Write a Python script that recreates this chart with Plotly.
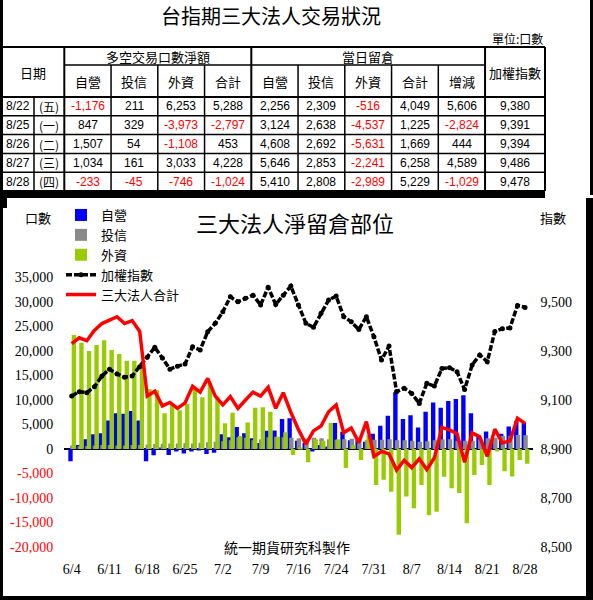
import plotly.graph_objects as go

W, H = 593, 600

# ---------------- chart data ----------------
dates = ["6/4", "6/5", "6/6", "6/9", "6/10", "6/11", "6/12", "6/13", "6/16", "6/17",
         "6/18", "6/19", "6/20", "6/23", "6/24", "6/25", "6/26", "6/27", "6/30", "7/1",
         "7/2", "7/3", "7/4", "7/7", "7/8", "7/9", "7/10", "7/11", "7/14", "7/15",
         "7/16", "7/17", "7/18", "7/21", "7/22", "7/24", "7/25", "7/28", "7/29", "7/30",
         "7/31", "8/1", "8/4", "8/5", "8/6", "8/7", "8/8", "8/11", "8/12", "8/13",
         "8/14", "8/15", "8/18", "8/19", "8/20", "8/21", "8/22", "8/25", "8/26", "8/27",
         "8/28"]

prop = [-2500, 800, 2000, 3000, 3200, 5800, 7300, 7200, 7750, 5800,
        -2500, -1300, 200, -1200, -500, -900, -500, -300, -1000, -750,
        3000, 2400, 4500, 3200, 2200, 1200, 3700, 3800, 6100, 6300,
        1700, 1200, -500, 800, 500, 5300, 3500, 1800, 1800, 1500,
        3100, 4750, 6800, 11600, 6100, 6900, 4400, 7600, 9500, 8400,
        9800, 10200, 10950, 7300, 2500, 3550, 2256, 3124, 4608, 5646,
        5410]

trust = [700, 600, 600, 700, 800, 800, 700, 700, 800, 800,
         900, 1000, 1000, 1100, 1100, 1200, 1100, 1300, 1400, 1500,
         1600, 1800, 2400, 2300, 1800, 2000, 2400, 2500, 2400, 2300,
         2200, 2100, 2300, 2200, 2000, 1900, 2000, 2100, 1900, 1800,
         1900, 1900, 2000, 1800, 1800, 1700, 1500, 1600, 1800, 2000,
         2000, 1700, 1700, 1700, 2000, 2200, 2309, 2638, 2692, 2853,
         2808]

foreign = [23250, 21700, 20000, 21200, 22200, 20200, 19400, 18000, 18000, 17500,
           12200, 12000, 7300, 9100, 7900, 9200, 12300, 10550, 13500, 10700,
           5250, 7400, 2650, 5400, 8400, 8500, 7600, 2500, 3400, -1200,
           200, -2700, 2000, 1700, 5300, 2000, -3900, 800, -2250, 2800,
           -7350, -6300, -8700, -17500, -9700, -12100, -7350, -13500, -12800, -5650,
           -8000, -9000, -15150, -5300, -3250, -7350, -516, -4537, -5631, -2241,
           -2989]

total = [21500, 22700, 22100, 24200, 25600, 26400, 27000, 25600, 26200, 24000,
         10800, 11800, 8800, 9500, 8300, 9400, 12800, 11600, 14400, 10800,
         9000, 10700, 8300, 10000, 11600, 10800, 12600, 8300, 11500, 7500,
         4000, 1000, 3700, 4700, 7600, 9000, 3300, 4300, 1300, 5600,
         -1500, -500, -1000, -4300, -2300, -3800, -2000, -4200, -1800, 4400,
         3900, 3100, -2700, 3300, 2500, -1500, 4049, 1225, 1669, 6258,
         5229]

taiex = [9116, 9134, 9130, 9154, 9198, 9226, 9206, 9193, 9198, 9236,
         9275, 9315, 9271, 9226, 9238, 9247, 9317, 9304, 9379, 9413,
         9460, 9521, 9501, 9515, 9528, 9488, 9560, 9490, 9528, 9565,
         9488, 9413, 9397, 9454, 9508, 9524, 9440, 9419, 9388, 9440,
         9358, 9263, 9320, 9134, 9148, 9127, 9086, 9168, 9157, 9229,
         9232, 9215, 9143, 9243, 9284, 9256, 9380, 9391, 9394, 9486,
         9478]

series_names = ["自營", "投信", "外資", "加權指數", "三大法人合計"]
x_tick_dates = ["6/4", "6/11", "6/18", "6/25", "7/2", "7/9", "7/16", "7/24",
                "7/31", "8/7", "8/14", "8/21", "8/28"]
left_ticks = [-20000, -15000, -10000, -5000, 0, 5000, 10000, 15000, 20000, 25000, 30000, 35000]
right_ticks = [8500, 8700, 8900, 9100, 9300, 9500]

chart_title = "三大法人淨留倉部位"
left_unit = "口數"
right_unit = "指數"
credit = "統一期貨研究科製作"

# ---------------- table data ----------------
tbl_title = "台指期三大法人交易狀況"
tbl_unit = "單位:口數"
tbl_date_head = "日期"
tbl_group1 = "多空交易口數淨額"
tbl_group2 = "當日留倉"
tbl_index_head = "加權指數"
tbl_sub = ["自營", "投信", "外資", "合計", "自營", "投信", "外資", "合計", "增減"]
tbl_dates = ["8/22", "8/25", "8/26", "8/27", "8/28"]
tbl_weekdays = ["(五)", "(一)", "(二)", "(三)", "(四)"]
net_prop = [-1176, 847, 1507, 1034, -233]
net_trust = [211, 329, 54, 161, -45]
net_foreign = [6253, -3973, -1108, 3033, -746]
net_total = [5288, -2797, 453, 4228, -1024]
oi_prop = [2256, 3124, 4608, 5646, 5410]
oi_trust = [2309, 2638, 2692, 2853, 2808]
oi_foreign = [-516, -4537, -5631, -2241, -2989]
oi_total = [4049, 1225, 1669, 6258, 5229]
oi_change = [5606, -2824, 444, 4589, -1029]
tbl_index = [9380, 9391, 9394, 9486, 9478]


def px(xp):
    return xp / W


def py(yp):
    return 1 - yp / H


CJK = "Noto Sans CJK TC"
SERIF = "Liberation Serif"
SANS = "Liberation Sans"

fig = go.Figure()

bar_width = 0.58
fig.add_trace(go.Bar(x=dates, y=prop, name=series_names[0], marker=dict(color="#0000ff", line=dict(width=0)),
                     width=bar_width, offset=-0.45))
fig.add_trace(go.Bar(x=dates, y=trust, name=series_names[1], marker=dict(color="#8a8a8a", line=dict(width=0)),
                     width=bar_width, offset=-0.22))
fig.add_trace(go.Bar(x=dates, y=foreign, name=series_names[2], marker=dict(color="#99cc00", line=dict(width=0)),
                     width=bar_width, offset=0.0))
fig.add_trace(go.Scatter(x=dates, y=taiex, name=series_names[3], yaxis="y2", mode="lines+markers",
                         line=dict(color="black", width=3.5, dash="6px,2px"),
                         marker=dict(color="black", size=5)))
fig.add_trace(go.Scatter(x=dates, y=total, name=series_names[4], yaxis="y3", mode="lines",
                         line=dict(color="#ff0000", width=3.5)))

x_dom = [px(64.15), px(532.6)]
y_dom = [py(547), py(277.5)]


def fmt(v):
    return "{:,}".format(v)


left_text = [("<span style='color:#ff0000'>%s</span>" % fmt(v)) if v < 0 else fmt(v) for v in left_ticks]

fig.update_layout(
    width=W, height=H,
    margin=dict(l=0, r=0, t=0, b=0),
    paper_bgcolor="white", plot_bgcolor="white",
    barmode="overlay",
    showlegend=True,
    legend=dict(x=px(61), y=py(200), xanchor="left", yanchor="top",
                bgcolor="rgba(0,0,0,0)", font=dict(family=CJK, size=13, color="black"),
                tracegroupgap=2, itemwidth=30),
    xaxis=dict(domain=x_dom, type="category", range=[-1, 61],
               tickvals=x_tick_dates, ticktext=x_tick_dates,
               showgrid=False, showline=False, zeroline=False, ticks="",
               ticklabelstandoff=12, automargin=False,
               tickfont=dict(family=SERIF, size=14, color="black")),
    yaxis=dict(domain=y_dom, range=[-20000, 35000], tickvals=left_ticks, ticktext=left_text,
               showgrid=False, showline=False, zeroline=True, zerolinecolor="black", zerolinewidth=1.5,
               ticks="", ticklabelstandoff=10, automargin=False,
               tickfont=dict(family=SERIF, size=14, color="black")),
    yaxis2=dict(overlaying="y", side="right", range=[8500, 9600], tickvals=right_ticks,
                ticktext=[fmt(v) for v in right_ticks],
                showgrid=False, showline=False, zeroline=False, ticks="", ticklabelstandoff=7,
                automargin=False, tickfont=dict(family=SERIF, size=14, color="black")),
    yaxis3=dict(overlaying="y", range=[-20000, 35000], visible=False),
)

ann = []


def text(xp, yp, s, size=12, color="black", family=CJK, xanchor="center"):
    ann.append(dict(x=px(xp), y=py(yp), xref="paper", yref="paper", text=s, showarrow=False,
                    xanchor=xanchor, yanchor="middle", font=dict(family=family, size=size, color=color)))


# table title & unit
text(271, 16, tbl_title, size=20)
text(545, 38, tbl_unit, size=12, xanchor="right")

col_edges = [64.3 + 46.75 * k for k in range(10)] + [545]
row_edges = [97, 115.8, 134.6, 153.4, 172.2, 191]
hdr_top, hdr_mid, hdr_bot = 47, 65, 97

text(33, (hdr_top + hdr_bot) / 2, tbl_date_head, size=13)
text((col_edges[0] + col_edges[4]) / 2, (hdr_top + hdr_mid) / 2, tbl_group1, size=13)
text((col_edges[4] + col_edges[9]) / 2, (hdr_top + hdr_mid) / 2, tbl_group2, size=13)
text((col_edges[9] + col_edges[10]) / 2, (hdr_top + hdr_bot) / 2, tbl_index_head, size=13)
for k, s in enumerate(tbl_sub):
    text((col_edges[k] + col_edges[k + 1]) / 2, (hdr_mid + hdr_bot) / 2, s, size=13)

tbl_cols = [net_prop, net_trust, net_foreign, net_total, oi_prop, oi_trust, oi_foreign,
            oi_total, oi_change, tbl_index]
for r in range(len(tbl_dates)):
    yc = (row_edges[r] + row_edges[r + 1]) / 2
    text(18, yc, tbl_dates[r], size=12, family=SANS)
    text(49, yc, tbl_weekdays[r], size=12)
    for k, col in enumerate(tbl_cols):
        v = col[r]
        text((col_edges[k] + col_edges[k + 1]) / 2, yc, fmt(v), size=12, family=SANS,
             color="#ff0000" if v < 0 else "black")

# chart texts
text(295, 222, chart_title, size=22)
text(38, 217, left_unit, size=13)
text(553, 217, right_unit, size=13)
text(287, 547, credit, size=14)

shapes = []


def hline(x0, x1, y, w=1.5):
    shapes.append(dict(type="line", xref="paper", yref="paper", x0=px(x0), x1=px(x1), y0=py(y), y1=py(y),
                       line=dict(color="black", width=w)))


def vline(x, y0, y1, w=1.5):
    shapes.append(dict(type="line", xref="paper", yref="paper", x0=px(x), x1=px(x), y0=py(y0), y1=py(y1),
                       line=dict(color="black", width=w)))


def box(x0, y0, x1, y1):
    shapes.append(dict(type="rect", xref="paper", yref="paper", x0=px(x0), x1=px(x1), y0=py(y0), y1=py(y1),
                       fillcolor="black", line=dict(width=0)))


# table grid
hline(2, 545, hdr_top, 2)
hline(col_edges[0], col_edges[9], hdr_mid)
hline(2, 545, hdr_bot, 2)
for yv in row_edges[1:-1]:
    hline(2, 545, yv)
vline(34, hdr_bot, row_edges[-1])
for k, xe in enumerate(col_edges):
    if k in (0, 4, 9, 10):
        vline(xe, hdr_top, row_edges[-1], 2)
    else:
        vline(xe, hdr_mid, row_edges[-1])

# frame
box(0, 0, 3, 600)
box(590, 0, 593, 195)
box(0, 190, 545, 198)
box(0, 190, 7, 208)
box(586, 198, 593, 600)
box(0, 596, 593, 600)

fig.update_layout(annotations=ann, shapes=shapes)

fig.write_html("out.html", include_plotlyjs=True, full_html=True, config={"displayModeBar": False},
               post_script="document.body.style.margin='0';document.body.style.overflow='hidden';")
